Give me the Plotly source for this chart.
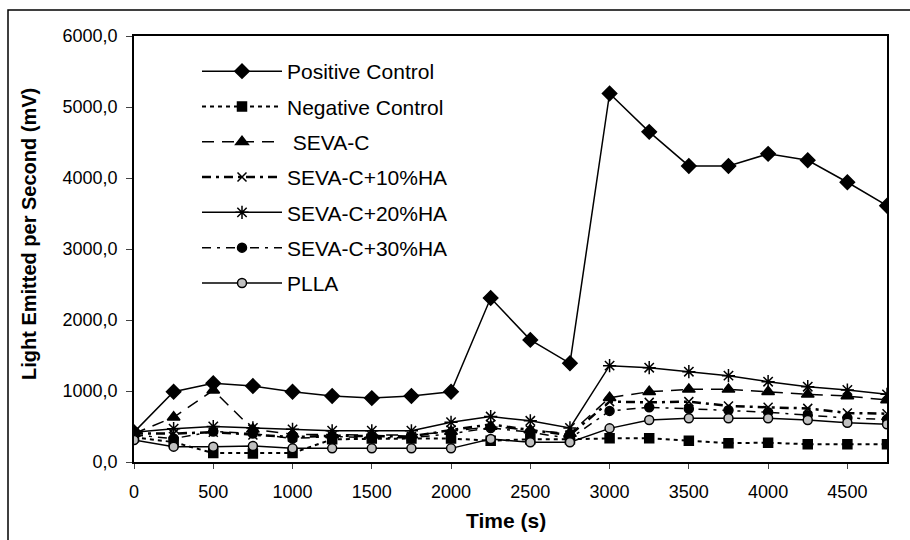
import plotly.graph_objects as go

time_s = [0, 250, 500, 750, 1000, 1250, 1500, 1750, 2000, 2250, 2500, 2750,
          3000, 3250, 3500, 3750, 4000, 4250, 4500, 4750]

positive_control = [420, 990, 1110, 1070, 990, 930, 900, 930, 990, 2310, 1720, 1390,
                    5190, 4650, 4170, 4170, 4340, 4250, 3940, 3610]
negative_control = [350, 280, 125, 120, 125, 320, 330, 330, 330, 300, 320, 320,
                    333, 333, 300, 265, 272, 250, 250, 250]
seva_c = [400, 630, 1010, 460, 390, 380, 380, 380, 430, 500, 450, 400,
          906, 990, 1023, 1023, 990, 953, 929, 873]
seva_c_10ha = [400, 400, 420, 380, 350, 370, 370, 360, 450, 530, 450, 380,
               850, 840, 850, 790, 770, 755, 690, 680]
seva_c_20ha = [420, 470, 500, 480, 460, 440, 440, 440, 560, 640, 580, 480,
               1357, 1328, 1272, 1216, 1131, 1061, 1014, 953]
seva_c_30ha = [380, 330, 430, 400, 330, 360, 340, 340, 400, 480, 420, 330,
               720, 770, 750, 730, 700, 660, 620, 600]
plla = [310, 216, 216, 225, 192, 192, 192, 192, 192, 324, 277, 277,
        474, 592, 615, 615, 615, 592, 554, 530]

y_ticks = [0, 1000, 2000, 3000, 4000, 5000, 6000]
x_ticks = [0, 500, 1000, 1500, 2000, 2500, 3000, 3500, 4000, 4500]

series = [
    ("Positive Control", positive_control, "solid", 1.5, "diamond", 11, "black"),
    ("Negative Control", negative_control, "4px,4px", 2, "square", 9, "black"),
    (" SEVA-C", seva_c, "12px,8px", 1.5, "triangle-up", 11, "black"),
    ("SEVA-C+10%HA", seva_c_10ha, "9px,5px,3px,5px", 2.5, "x-thin-open", 9, "black"),
    ("SEVA-C+20%HA", seva_c_20ha, "solid", 1.5, "asterisk-open", 11, "black"),
    ("SEVA-C+30%HA", seva_c_30ha, "9px,6px,3px,6px", 1.5, "circle", 9, "black"),
    ("PLLA", plla, "solid", 1.5, "circle", 9, "#c0c0c0"),
]

fig = go.Figure()
for name, vals, dash, lw, sym, size, mcol in series:
    fig.add_trace(go.Scatter(
        x=time_s, y=vals, name=name, mode="lines+markers", legendgroup=name,
        line=dict(color="black", width=lw, dash=dash),
        marker=dict(symbol=sym, size=size, color=mcol,
                    line=dict(color="black", width=1.5)),
    ))

# pixel helpers for layout placement
L, R, T, B = 134, 887, 36, 462
W, H = R - L, B - T
def px(x):
    return (x - L) / W
def py(y):
    return (B - y) / H

# outer chart border
fig.add_shape(type="rect", xref="paper", yref="paper",
              x0=px(8), x1=px(920), y0=py(550), y1=py(10),
              line=dict(color="black", width=1.5), fillcolor="rgba(0,0,0,0)")

# axis titles
fig.add_annotation(text="<b>Light Emitted per Second (mV)</b>", textangle=-90,
                   xref="paper", yref="paper", x=px(29), y=py(234),
                   showarrow=False, font=dict(size=20), xanchor="center", yanchor="middle")
fig.add_annotation(text="<b>Time (s)</b>",
                   xref="paper", yref="paper", x=px(506), y=py(520),
                   showarrow=False, font=dict(size=21), xanchor="center", yanchor="middle")

fig.update_layout(
    width=910, height=540,
    margin=dict(l=L, r=910 - R, t=T, b=540 - B),
    paper_bgcolor="white", plot_bgcolor="white",
    separators=",.",
    font=dict(family="Liberation Sans, Arial", size=18, color="black"),
    showlegend=True,
    legend=dict(x=px(197), y=py(51), xanchor="left", yanchor="top",
                bgcolor="rgba(0,0,0,0)", font=dict(size=21),
                tracegroupgap=5, itemwidth=80),
    xaxis=dict(range=[0, 4750], tickvals=x_ticks, ticks="outside", ticklen=5,
               showline=True, linecolor="black", linewidth=1.5, mirror=True,
               showgrid=False, zeroline=False, ticklabelstandoff=8,
               tickfont=dict(size=18)),
    yaxis=dict(range=[0, 6000], tickvals=y_ticks, tickformat=".1f", ticks="outside",
               ticklen=6, showline=True, linecolor="black", linewidth=1.5, mirror=True,
               showgrid=False, zeroline=False, ticklabelstandoff=5,
               tickfont=dict(size=18)),
)

fig.write_html("out.html")
